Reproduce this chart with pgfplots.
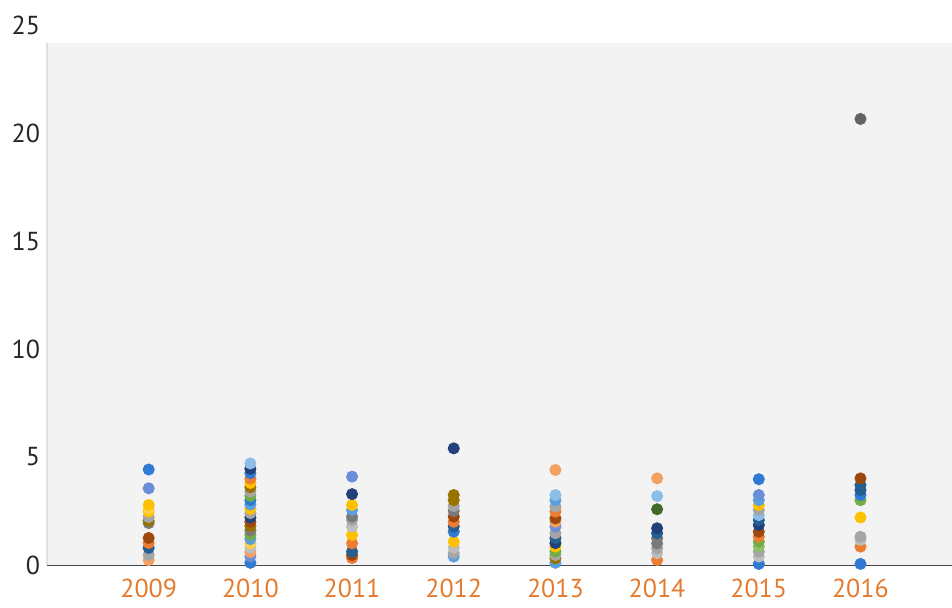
\documentclass[border=0pt]{standalone}
\usepackage{pgfplots}
\pgfplotsset{compat=1.18}
\usepackage{fontspec}
\setmainfont{PT Sans}
\definecolor{bl}{HTML}{2F7BD3}
\definecolor{cf}{HTML}{6A8FD6}
\definecolor{lb}{HTML}{5BA0DE}
\definecolor{pb}{HTML}{8DBEE8}
\definecolor{db}{HTML}{255E91}
\definecolor{nv}{HTML}{22407A}
\definecolor{or}{HTML}{ED7D31}
\definecolor{lo}{HTML}{F4A061}
\definecolor{go}{HTML}{FFC000}
\definecolor{lg}{HTML}{FFD24A}
\definecolor{gr}{HTML}{A5A5A5}
\definecolor{lgr}{HTML}{BDBDBD}
\definecolor{dg}{HTML}{7A7A7A}
\definecolor{kg}{HTML}{636363}
\definecolor{gn}{HTML}{70AD47}
\definecolor{dgn}{HTML}{43682B}
\definecolor{lgn}{HTML}{8CC168}
\definecolor{br}{HTML}{9E480E}
\definecolor{ol}{HTML}{997300}
\definecolor{xlab}{HTML}{E47A2E}
\begin{document}
\begin{tikzpicture}
\useasboundingbox (-23.5pt,-21.5pt) rectangle (452.5pt,282.5pt);
\begin{axis}[
  scale only axis, width=452.5pt, height=270pt,
  xmin=2008, xmax=2016.9, ymin=0, ymax=25,
  xtick={2009,...,2016}, ytick={0,5,10,15,20,25},
  major tick length=0pt,
  axis x line*=bottom, axis y line*=left,
  x axis line style={draw=black!72, line width=1.3pt},
  y axis line style={draw=none},
  /pgf/number format/1000 sep={},
  /pgf/number format/assume math mode=true,
  tick label style={font=\fontsize{13}{15}\selectfont},
  xticklabel style={text=xlab, yshift=-3.5pt},
  yticklabel style={text=black!85},
  clip=false,
  scatter/classes={
    bl={mark=*,bl}, cf={mark=*,cf}, lb={mark=*,lb}, pb={mark=*,pb},
    db={mark=*,db}, nv={mark=*,nv}, or={mark=*,or}, lo={mark=*,lo},
    go={mark=*,go}, lg={mark=*,lg}, gr={mark=*,gr}, lgr={mark=*,lgr},
    dg={mark=*,dg}, kg={mark=*,kg}, gn={mark=*,gn}, dgn={mark=*,dgn},
    lgn={mark=*,lgn}, br={mark=*,br}, ol={mark=*,ol}},
]
\fill[fill={rgb,255:red,243;green,243;blue,243}] (axis cs:2008,0) rectangle (axis cs:2016.9,24.17);
\draw[black!12, line width=0.6pt] (axis cs:2008,0) -- (axis cs:2008,24.17);
\addplot[scatter, only marks, scatter src=explicit symbolic, mark size=2.8pt,
  every mark/.append style={draw=none}]
table[meta=c]{
x y c
2009 0.23 lo
2009 0.46 gr
2009 0.79 db
2009 1.02 or
2009 1.25 br
2009 1.94 dg
2009 2.05 ol
2009 2.22 gr
2009 2.47 go
2009 2.62 lg
2009 2.78 go
2009 3.55 cf
2009 4.42 bl
2010 0.10 bl
2010 0.40 cf
2010 0.60 lo
2010 0.80 lgr
2010 1.00 lg
2010 1.20 lb
2010 1.40 gn
2010 1.60 dg
2010 1.80 ol
2010 2.00 br
2010 2.20 nv
2010 2.40 gr
2010 2.60 go
2010 2.80 lb
2010 3.00 bl
2010 3.20 gn
2010 3.40 gr
2010 3.60 ol
2010 3.80 go
2010 4.00 or
2010 4.25 bl
2010 4.45 nv
2010 4.70 pb
2011 0.32 or
2011 0.46 br
2011 0.62 db
2011 1.00 or
2011 1.39 go
2011 1.78 lgr
2011 2.08 gr
2011 2.24 dg
2011 2.55 lb
2011 2.78 go
2011 3.28 nv
2011 4.09 cf
2012 0.39 lb
2012 0.55 gr
2012 0.80 lgr
2012 1.08 go
2012 1.54 bl
2012 1.78 db
2012 2.00 or
2012 2.24 br
2012 2.50 dg
2012 2.73 gr
2012 3.00 ol
2012 3.24 ol
2012 5.40 nv
2013 0.10 lb
2013 0.31 ol
2013 0.46 gr
2013 0.62 gn
2013 0.85 go
2013 1.01 nv
2013 1.24 db
2013 1.47 gr
2013 1.78 cf
2013 2.00 lo
2013 2.16 br
2013 2.47 or
2013 2.70 gr
2013 3.00 lb
2013 3.24 pb
2013 4.40 lo
2014 0.23 or
2014 0.55 lgr
2014 0.77 gr
2014 1.00 dg
2014 1.24 dg
2014 1.47 db
2014 1.70 nv
2014 2.58 dgn
2014 3.19 pb
2014 4.01 lo
2015 0.05 bl
2015 0.39 lgr
2015 0.62 gr
2015 0.85 lgn
2015 1.08 gn
2015 1.31 or
2015 1.54 br
2015 1.85 nv
2015 2.08 db
2015 2.31 pb
2015 2.55 gr
2015 2.78 go
2015 3.00 lb
2015 3.24 cf
2015 3.97 bl
2016 0.05 bl
2016 0.85 or
2016 1.16 lgr
2016 1.31 gr
2016 2.20 go
2016 3.00 gn
2016 3.24 bl
2016 3.47 db
2016 3.70 db
2016 4.01 br
2016 20.65 kg
};
\end{axis}
\end{tikzpicture}
\end{document}
